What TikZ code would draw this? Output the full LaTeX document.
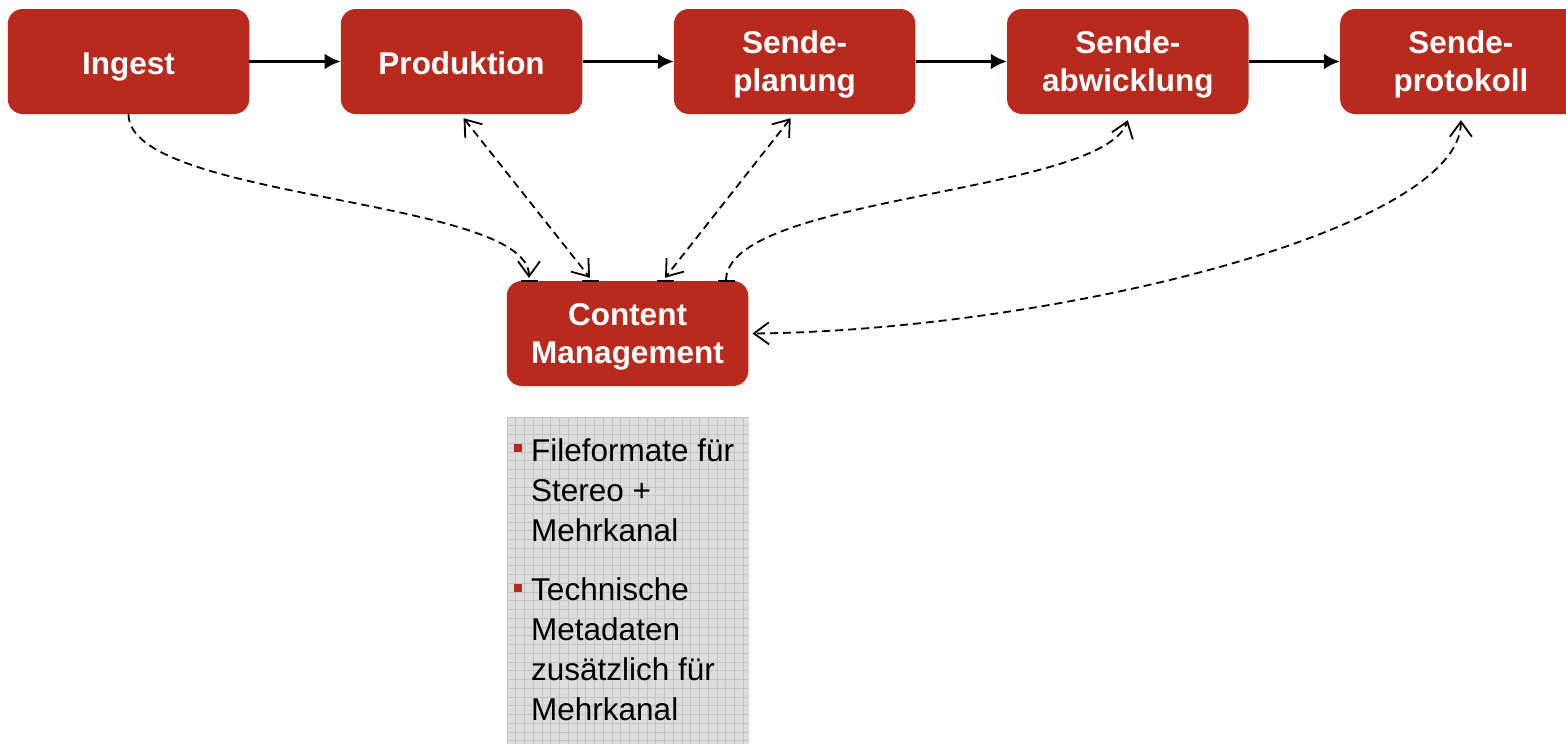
\documentclass[tikz,border=0pt]{standalone}
\usepackage{fontspec}
\setmainfont{Liberation Sans}
\usetikzlibrary{positioning,arrows.meta}
\definecolor{stagered}{RGB}{185,42,30}
\definecolor{notebg}{RGB}{221,221,221}
\definecolor{noteline}{RGB}{196,196,196}

\begin{document}
\begin{tikzpicture}[x=1pt, y=-1pt, >={Straight Barb[length=15pt,width=22pt]},
  stage/.style={rectangle, rounded corners=15pt, fill=stagered, text=white, minimum width=241.5pt, minimum height=105pt, inner sep=0pt, text depth=-4pt, align=center, font=\fontsize{31.5}{38}\selectfont\bfseries, execute at begin node={\rule{0pt}{26.5pt}}},
  flow/.style={line width=3.8pt, -{Latex[length=16pt,width=16pt]}},
  link/.style={line width=1.8pt, dash pattern=on 8pt off 5pt},
  tick/.style={line width=1.6pt},
  bullet/.style={rectangle, fill=stagered, minimum size=8pt, inner sep=0pt},
  item/.style={anchor=north west, align=left, inner sep=0pt, font=\fontsize{31.5}{40}\selectfont}]
  \useasboundingbox (0,0) rectangle (1566,744);
  \clip (0,0) rectangle (1566,744);

  % process chain
  \node[stage] (ingest) at (128.5,61.5) {Ingest};
  \node[stage, right=91.2pt of ingest] (prod) {Produktion};
  \node[stage, right=91.2pt of prod] (plan) {Sende-\\planung};
  \node[stage, right=91.2pt of plan] (abw) {Sende-\\abwicklung};
  \node[stage, right=91.2pt of abw] (prot) {Sende-\\protokoll};
  \foreach \a/\b in {ingest/prod, prod/plan, plan/abw, abw/prot}
    \draw[flow] (\a) -- (\b);

  \node[stage] (cm) at (627.5,333.5) {Content\\Management};
  \coordinate (cmA) at ([xshift=-98.5pt]cm.north);
  \coordinate (cmB) at ([xshift=-37.5pt]cm.north);
  \coordinate (cmC) at ([xshift=37.5pt]cm.north);
  \coordinate (cmD) at ([xshift=98.5pt]cm.north);
  \foreach \c in {cmA,cmB,cmC,cmD}
    \draw[tick] ([xshift=-8.5pt]\c) -- ([xshift=8.5pt]\c);

  % links to content management
  \draw[link,->] (ingest.south) .. controls +(0,86) and +(0,-80) .. ([yshift=3pt]cmA);
  \draw[link,<->] ([xshift=2pt,yshift=-4pt]prod.south) -- ([yshift=3pt]cmB);
  \draw[link,<->] ([xshift=-4pt,yshift=-4pt]plan.south) -- ([yshift=3pt]cmC);
  \draw[link,->] (cmD) .. controls +(0,-86) and +(-26,75) .. ([yshift=-6pt]abw.south);
  \draw[link,<->] ([yshift=-6pt]prot.south) .. controls +(0,110) and +(298,-3) .. ([xshift=4pt]cm.east);

  % notes
  \fill[notebg] (507,417) rectangle (748.5,744);
  \foreach \i in {0,...,27}
    \draw[noteline, line width=0.7pt] ({507+8.75*\i},417) -- ({507+8.75*\i},744);
  \foreach \j in {0,...,37}
    \draw[noteline, line width=0.7pt] (507,{417+8.75*\j}) -- (748.5,{417+8.75*\j});
  \node[bullet] (b1) at (517.5,448) {};
  \node[item] (n1) at (531,438) {Fileformate für\\Stereo +\\Mehrkanal};
  \node[bullet] (b2) at (517.5,588) {};
  \node[item] (n2) at (531,577) {Technische\\Metadaten\\zusätzlich für\\Mehrkanal};
\end{tikzpicture}
\end{document}
